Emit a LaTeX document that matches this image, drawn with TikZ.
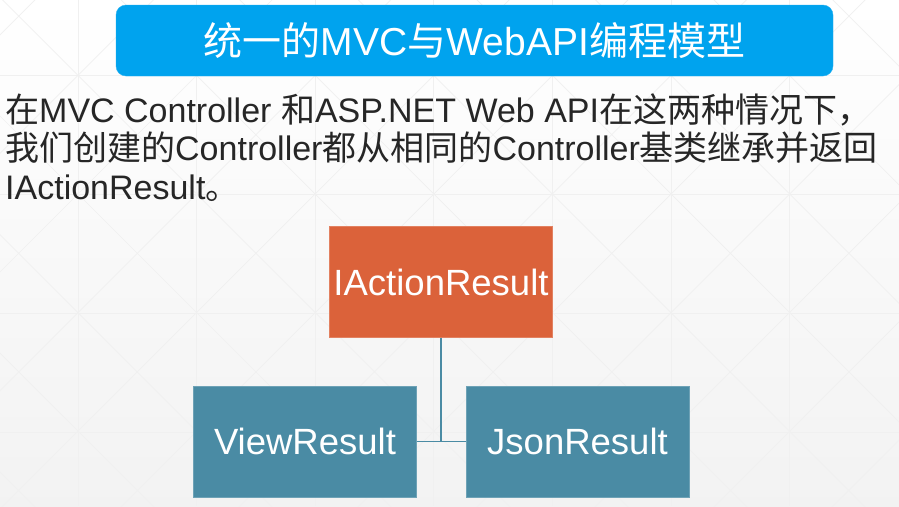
\documentclass[tikz,border=0pt]{standalone}
\usepackage{fontspec}
\setmainfont{Liberation Sans}
\newfontfamily\cjk{Noto Sans CJK SC}
\definecolor{titleblue}{HTML}{00A3EE}
\definecolor{boxorange}{HTML}{DB623A}
\definecolor{boxteal}{HTML}{4A8BA4}
\definecolor{txt}{HTML}{262626}
\tikzset{
  gridline/.style={draw=black!6, line width=0.7pt},
  titlebox/.style={fill=titleblue, draw=titleblue!85!white, rounded corners=10pt, minimum width=717pt, minimum height=71pt, inner sep=0pt, text=white, font=\fontsize{39}{47}\selectfont},
  para/.style={inner sep=0pt, text=txt, font=\fontsize{34}{40}\selectfont},
  boxnode/.style={minimum width=223pt, minimum height=111pt, inner sep=0pt, text=white, font=\fontsize{36.5}{44}\selectfont},
  conn/.style={draw=boxteal, line width=1.6pt}
}
\begin{document}
\begin{tikzpicture}[x=1pt,y=-1pt]
\useasboundingbox (0,0) rectangle (899,506);
\shade[top color=white, bottom color=black!5] (0,0) rectangle (899,506);
\begin{scope}
\clip (0,0) rectangle (899,506);
\foreach \i in {-1,...,8} \draw[gridline] ({78+118.6*\i},0) -- ++(0,506);
\foreach \j in {-2,...,3} \draw[gridline] (0,{194+119*\j}) -- ++(899,0);
\foreach \k in {-6,...,12} {
  \draw[gridline] ({78+118.6*\k},194) ++(-700,-700) -- ++(1400,1400);
  \draw[gridline] ({78+118.6*\k},194) ++(-700,700) -- ++(1400,-1400);
}
\end{scope}
\node[titlebox] (title) at (474.5,40.5) {{\cjk 统一的}MVC{\cjk 与}WebAPI{\cjk 编程模型}};
\node[para, anchor=base west] (l1) at (5,122) {{\cjk 在}MVC Controller {\cjk 和}ASP.NET Web API{\cjk 在这两种情况下，}};
\node[para, anchor=base west] (l2) at (5,160.5) {{\cjk 我们创建的}Controller{\cjk 都从相同的}Controller{\cjk 基类继承并返回}};
\node[para, anchor=base west] (l3) at (5,199) {IActionResult{\cjk 。}};
\node[boxnode, fill=boxorange, draw=boxorange!80!white] (iar) at (441,282) {IActionResult};
\node[boxnode, fill=boxteal, draw=boxteal!80!white] (vr) at (305,441.5) {ViewResult};
\node[boxnode, fill=boxteal, draw=boxteal!80!white] (jr) at (577.5,441.5) {JsonResult};
\coordinate (jn) at (iar.south |- vr.east);
\draw[conn] (iar.south) -- (jn);
\draw[conn] (vr.east) -- (jr.west);
\end{tikzpicture}
\end{document}
